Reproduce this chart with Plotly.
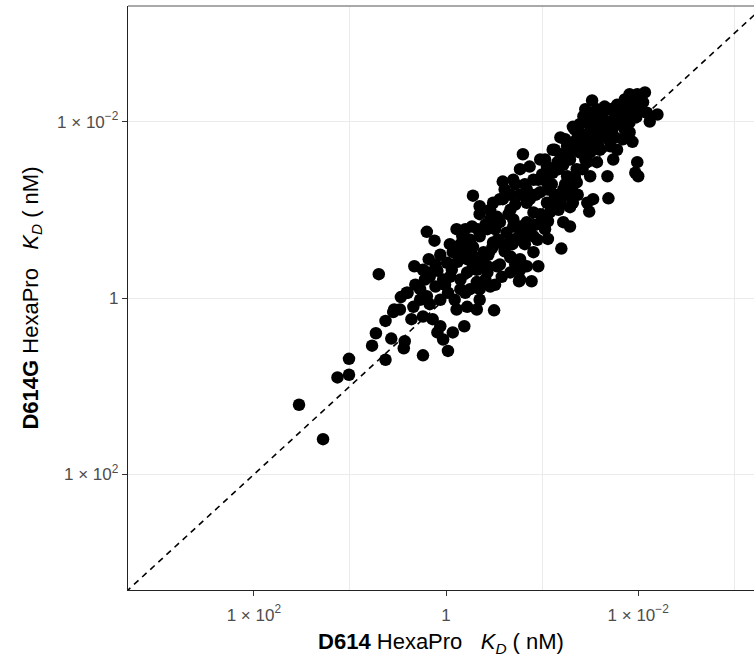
import plotly.graph_objects as go

# Values are -log10(KD) for each variant (axis shows KD, decreasing to the right/top)
d614_neglog_kd = [
    -1.53, -1.28, -1.13, -1.01, -1.01, -0.77, -0.73, -0.63, -0.57, -0.63,
    -0.54, -0.47, -0.40, -0.36, -0.24, -0.44, -0.43, -0.70, -0.33, -0.20,
    -0.12, -0.18, -0.19, -0.09, 0.01, -0.03, 0.02, -0.11, -0.27, -0.34,
    -0.24, -0.14, -0.06, -0.09, -0.03, 0.02, 0.07, 0.19, 0.11, 0.22,
    0.32, 0.35, 0.50, 0.20, 0.15, 0.22, 0.32, 0.43, 0.46, 0.32,
    0.15, 0.11, 0.17, 0.27, 0.28, 0.35, 0.39, 0.43, 0.49, 0.56,
    0.53, 0.63, 0.67, 0.58, 0.67, 0.77, 0.89, 0.84, 0.96, 0.91,
    0.95, 0.84, 0.77, 0.70, 0.67, 0.59, 0.49, 0.35, 0.28, 0.59,
    0.70, 0.77, 0.80, 0.87, 0.98, 0.91, 0.84, 0.84, 0.91, 0.84,
    1.01, 1.08, 1.05, 0.98, 1.05, 1.11, 1.05, 1.16, 1.11, 1.19,
    1.26, 1.29, 1.26, 1.22, 1.19, 1.29, 1.22, 1.29, 1.20, 1.06,
    1.36, 1.36, 1.39, 1.36, 1.32, 1.43, 1.52, 1.57, 1.65, 1.50,
    1.60, 1.47, 1.57, 1.50, 1.60, 1.47, 1.57, 1.50, 1.68, 1.74,
    1.71, 1.68, 1.74, 1.81, 1.88, 1.95, 1.99, 2.07, 2.05, 2.09,
    2.12, 2.20, 1.91, 1.91, 1.94, 1.84, 1.78, 1.99, 1.97, 2.00,
    1.69, 1.53, 1.49, 1.47, 1.32, 0.91, 0.77, 0.70, 0.76, 0.77,
    0.67, 0.53, 0.43, 0.28, 0.22, 0.07, 0.04, -0.17, -0.24, -0.20,
    -0.41, -0.48, -0.55,
    -0.01, 0.06, 0.12, 0.20, 0.25, 0.30, 0.37, 0.44, 0.48, 0.54,
    0.59, 0.61, 0.69, 0.75, 0.79, 0.82, 0.87, 0.93, 0.98, 1.03,
    1.06, 1.10, 1.13, 1.17, 1.21, 1.24, 1.27, 1.31, 1.34, 1.37,
    1.42, 1.45, 1.48, 1.52, 1.55, 1.58, 1.62, 1.65, 1.69, 1.73,
    1.76, 1.79, 1.83, 1.86, 1.89, 1.94, 1.98, 2.02,
    0.25, 0.33, 0.41, 0.46, 0.51, 0.65, 0.72, 0.77, 0.82, 0.87,
    0.93, 0.96, 1.00, 1.06, 1.10, 1.17, 1.22, 1.27, 1.31, 1.37,
    1.42, 1.45, 1.50,
    0.09, 0.15, 0.25, 0.35, 0.41, 0.51, 0.56, 0.67, 0.72, 0.77,
    -0.06, -0.17, -0.27, -0.32, -0.22, -0.11, -0.06, 0.04, 0.15, 0.20,
    0.35, 0.46, 0.56, 0.61, 0.67, 0.72, 1.03, 1.13, 1.19, 1.24,
    1.34, 1.39, 1.45, 1.55, 1.63, 1.71, 1.78, 1.86, 1.91,
]

d614g_neglog_kd = [
    -1.21, -1.60, -0.90, -0.87, -0.69, -0.54, -0.40, -0.70, -0.46, -0.26,
    -0.13, 0.01, 0.06, -0.24, -0.65, -0.57, -0.49, 0.27, 0.36, 0.75,
    0.65, 0.44, 0.29, 0.31, 0.40, 0.21, 0.06, 0.13, 0.10, -0.10,
    -0.21, -0.24, -0.32, -0.39, -0.47, -0.60, -0.39, -0.32, -0.13, -0.10,
    -0.13, -0.02, -0.14, 0.06, 0.21, 0.29, 0.32, 0.29, 0.13, 0.18,
    0.52, 0.78, 0.70, 0.81, 0.58, 0.70, 0.52, 0.78, 0.63, 0.86,
    0.92, 0.74, 0.47, 0.24, 0.29, 0.21, 0.19, 0.36, 0.36, 0.52,
    0.66, 0.70, 0.81, 0.89, 1.00, 1.12, 1.08, 1.04, 1.16, 1.32,
    1.34, 1.46, 1.63, 1.49, 1.57, 1.34, 1.23, 1.08, 0.97, 0.86,
    0.89, 0.97, 1.08, 1.20, 1.31, 1.42, 1.49, 1.54, 1.68, 1.82,
    1.72, 1.57, 1.38, 1.23, 1.08, 1.03, 0.86, 0.81, 0.56, 0.67,
    1.31, 1.46, 1.65, 1.80, 1.94, 2.06, 2.24, 2.14, 2.17, 1.94,
    1.99, 1.83, 1.80, 1.65, 1.68, 1.54, 1.54, 1.38, 1.38, 1.57,
    1.72, 1.88, 2.02, 2.10, 2.17, 2.25, 2.31, 2.33, 2.22, 2.10,
    2.00, 2.08, 1.99, 1.88, 1.77, 1.80, 1.68, 1.54, 1.42, 1.38,
    1.13, 1.12, 0.98, 1.08, 1.08, 0.70, 0.66, 0.81, 0.19, 0.32,
    0.46, 0.36, 0.36, 0.36, 0.44, 0.52, 0.24, 0.24, 0.32, 0.02,
    0.06, -0.13, -0.16,
    0.15, 0.32, 0.41, 0.49, 0.55, 0.46, 0.41, 0.49, 0.57, 0.66,
    0.61, 0.53, 0.61, 0.69, 0.78, 0.61, 0.80, 0.83, 0.95, 0.78,
    0.87, 1.06, 1.17, 1.00, 1.14, 1.29, 1.17, 1.23, 1.37, 1.17,
    1.46, 1.57, 1.71, 1.80, 1.91, 1.74, 1.85, 1.97, 1.80, 1.91,
    1.82, 1.97, 2.02, 1.91, 2.08, 2.14, 2.05, 2.16,
    0.66, 0.78, 0.83, 0.89, 0.78, 0.95, 1.06, 1.17, 1.29, 1.12,
    1.17, 1.34, 1.40, 1.23, 1.29, 1.46, 1.51, 1.63, 1.74, 1.68,
    1.85, 1.74, 2.02,
    -0.02, 0.10, 0.10, 0.10, 0.21, 0.15, 0.38, 0.66, 0.38, 0.44,
    -0.02, -0.07, -0.02, 0.15, 0.21, 0.38, 0.49, 0.61, 0.61, 0.78,
    0.95, 1.00, 1.12, 1.23, 1.17, 1.29, 1.57, 1.68, 1.63, 1.80,
    1.91, 1.97, 2.14, 2.08, 2.05, 2.14, 2.19, 2.25, 2.31,
]

tick_vals = [-2, 0, 2]
tick_text = ["1 \u00d7 10<sup>2</sup>", "1", "1 \u00d7 10<sup>\u22122</sup>"]
grid_x_vals = [-1, 1, 3]
x_range = [-3.31, 3.205]
y_range = [-3.31, 3.31]

font_family = "Liberation Sans, Arial, sans-serif"

fig = go.Figure()

# identity line
fig.add_trace(go.Scatter(
    x=[-3.5, 3.5], y=[-3.5, 3.5], mode="lines",
    line=dict(color="black", width=1.6, dash="6px,5px"),
    hoverinfo="skip", showlegend=False,
))

fig.add_trace(go.Scatter(
    x=d614_neglog_kd, y=d614g_neglog_kd, mode="markers",
    marker=dict(color="black", size=12.5, line=dict(width=0)),
    showlegend=False,
))

axis_common = dict(
    tickmode="array", tickvals=tick_vals, ticktext=tick_text,
    ticks="outside", ticklen=5, tickwidth=1.2, tickcolor="#333333",
    tickfont=dict(family=font_family, size=17, color="#4d4d4d"),
    showline=True, linecolor="#222222", linewidth=1.4,
    zeroline=False, gridcolor="#ebebeb", gridwidth=1,
    automargin=False,
)

title_x = ("<b>D614</b> HexaPro&nbsp;&nbsp; <i>K</i><sub><i>D</i></sub>"
           "&nbsp;( nM)")
title_y = ("<b>D614G</b> HexaPro&nbsp;&nbsp; <i>K</i><sub><i>D</i></sub>"
           "&nbsp;( nM)")

fig.update_xaxes(
    **axis_common, range=x_range, showgrid=False,
    minor=dict(tickmode="array", tickvals=grid_x_vals, showgrid=True,
               gridcolor="#ebebeb", gridwidth=1, ticklen=0),
    ticklabelstandoff=4,
    title=dict(text=title_x,
               font=dict(family=font_family, size=22, color="black"), standoff=10),
)
fig.update_yaxes(
    **axis_common, range=y_range, showgrid=True,
    title=dict(text=title_y,
               font=dict(family=font_family, size=22, color="black"), standoff=12),
)

fig.add_shape(type="line", xref="paper", yref="paper", x0=0, x1=1, y0=1, y1=1,
              line=dict(color="#8c8c8c", width=1.5))

fig.update_layout(
    width=754, height=658,
    margin=dict(l=128, r=0, t=6, b=68, autoexpand=False),
    paper_bgcolor="white", plot_bgcolor="white",
    font=dict(family=font_family),
)

fig.write_html("out.html",
               config={"displayModeBar": False},
               post_script="document.body.style.margin='0';")
